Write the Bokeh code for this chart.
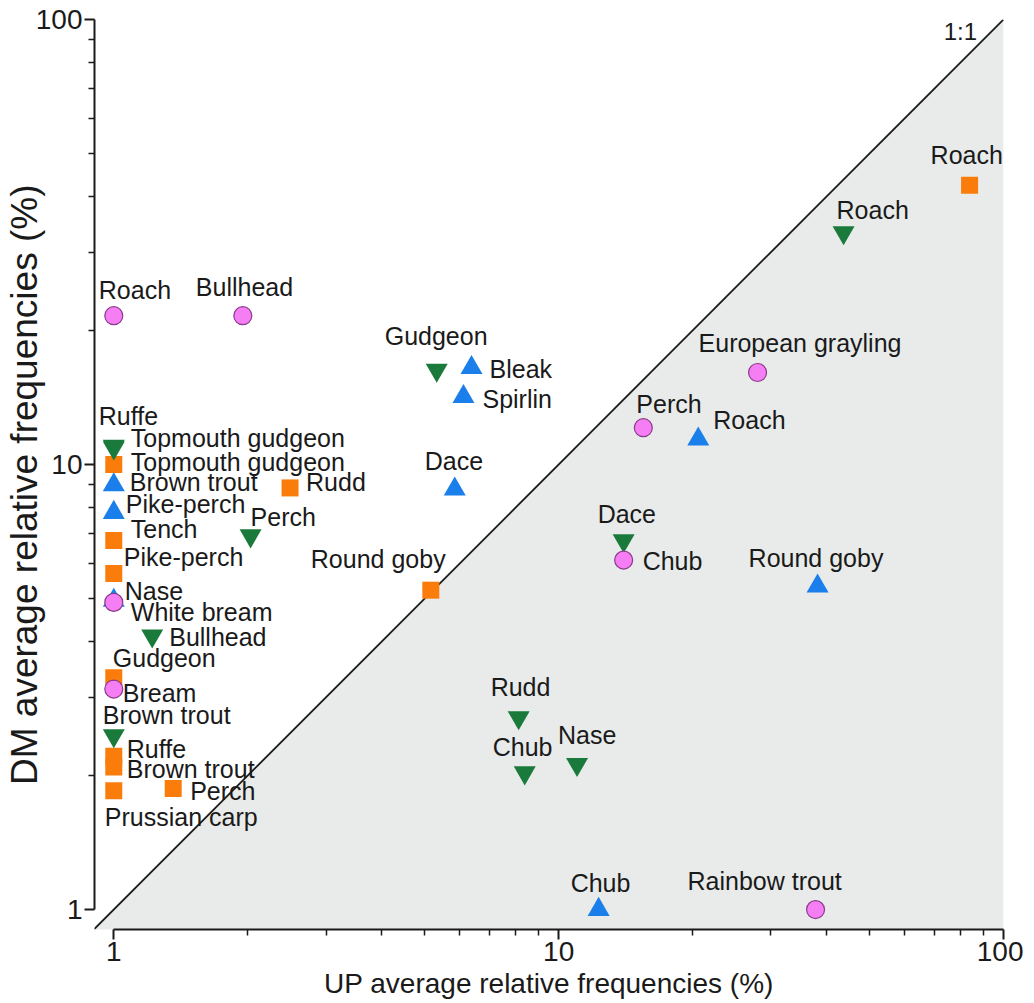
import math
from bokeh.plotting import figure
from bokeh.models import FixedTicker, Label, ColumnDataSource, BasicTickFormatter
from bokeh.core.properties import value
from bokeh.embed import file_html
from bokeh.resources import INLINE

# ---------------- data (UP vs DM average relative frequencies, %) ----------------
pink_names = ["Roach", "Bullhead", "European grayling", "Perch", "Chub", "Nase", "Bream", "Rainbow trout"]
pink_up = [1.0, 1.95, 28.0, 15.5, 14.0, 1.0, 1.0, 37.8]
pink_dm = [21.6, 21.6, 16.1, 12.1, 6.1, 4.9, 3.13, 1.0]

blue_names = ["Bleak", "Spirlin", "Roach", "Dace", "Brown trout", "Pike-perch", "White bream", "Round goby", "Chub"]
blue_up = [6.37, 6.11, 20.6, 5.84, 1.0, 1.0, 1.0, 38.2, 12.3]
blue_dm = [16.5, 14.2, 11.4, 8.8, 9.0, 7.8, 4.95, 5.33, 1.0]

green_names = ["Roach", "Gudgeon", "Ruffe", "Topmouth gudgeon", "Perch", "Dace", "Bullhead", "Brown trout", "Rudd", "Chub", "Nase"]
green_up = [43.7, 5.32, 1.0, 1.0, 2.03, 14.0, 1.22, 1.0, 8.13, 8.39, 11.0]
green_dm = [33.2, 16.3, 11.0, 10.9, 6.92, 6.75, 4.12, 2.46, 2.70, 2.03, 2.12]

orange_names = ["Roach", "Topmouth gudgeon", "Rudd", "Tench", "Pike-perch", "Round goby", "Gudgeon", "Ruffe", "Brown trout", "Perch", "Prussian carp"]
orange_up = [83.9, 1.0, 2.49, 1.0, 1.0, 5.16, 1.0, 1.0, 1.0, 1.36, 1.0]
orange_dm = [42.4, 10.0, 8.86, 6.75, 5.69, 5.22, 3.32, 2.21, 2.09, 1.87, 1.85]

major_ticks = [1, 10, 100]
minor_ticks = [2, 3, 4, 5, 6, 7, 8, 9, 20, 30, 40, 50, 60, 70, 80, 90]
one_to_one = [0.8, 100]

# ---------------- label placement (pixel offsets from marker) ----------------
pink_dx = [-15, -47, -59, -7, 19, 11, 9, -128]
pink_dy = [-26, -29, -29, -24, 1, -11, 4, -29]
blue_dx = [18, 19, 15, -30, 16, 12, 17, -69, -28]
blue_dy = [1, 2, -19, -28, -3, -9, 12, -28, -27]
green_dx = [-7, -52, -15, 17, 0, -26, 17, -11, -28, -32, -19]
green_dy = [-23, -34, -30, -10, -19, -26, 1, -21, -31, -26, -29]
orange_dx = [-39, 17, 16, 17, 10, -120, -1, 13, 13, 17, -9]
orange_dy = [-30, -3, -6, -11, -17, -31, -20, -7, 2, 2, 26]

FONT_NAME = "Liberation Sans"
FONT = value(FONT_NAME)
TXT = "#1a1a1a"

x_lo, x_hi = 0.905, 100
y_lo, y_hi = 0.902, 100

p = figure(x_axis_type="log", y_axis_type="log",
           x_range=(x_lo, x_hi), y_range=(y_lo, y_hi),
           frame_width=909, frame_height=910,
           min_border_left=93, min_border_right=20, min_border_top=19, min_border_bottom=60,
           output_backend="svg", toolbar_location=None,
           background_fill_color="white", border_fill_color="white",
           outline_line_color=None)
p.grid.visible = False

# shaded region below the 1:1 line
p.patch(x=[one_to_one[0], one_to_one[1], one_to_one[1]],
        y=[one_to_one[0], one_to_one[1], one_to_one[0]],
        fill_color="#E8EBEA", line_color=None)
p.line(one_to_one, one_to_one, line_color="#1a1a1a", line_width=1.8)

def series(names, xs, ys, dx, dy, marker, size, fill, line_color, line_width):
    src = ColumnDataSource(dict(x=xs, y=ys, name=names, dx=dx, dy=dy))
    p.scatter("x", "y", source=src, marker=marker, size=size, fill_color=fill,
              line_color=line_color, line_width=line_width)
    return src

srcs = []
srcs.append(series(orange_names, orange_up, orange_dm, orange_dx, orange_dy, "square", 17, "#FA7D0C", None, 0))
srcs.append(series(blue_names, blue_up, blue_dm, blue_dx, blue_dy, "triangle", 22, "#1A7FEA", None, 0))
srcs.append(series(green_names, green_up, green_dm, green_dx, green_dy, "inverted_triangle", 22, "#1A7A3B", None, 0))
srcs.append(series(pink_names, pink_up, pink_dm, pink_dx, pink_dy, "circle", 18, "#F67EF4", "#8A3B8A", 1.2))

for s in srcs:
    p.text("x", "y", text="name", source=s, x_offset="dx", y_offset="dy",
           text_align="left", text_baseline="middle", text_font=FONT,
           text_font_size="25px", text_color=TXT)

# axes
for ax in (p.xaxis[0], p.yaxis[0]):
    ax.ticker = FixedTicker(ticks=major_ticks, minor_ticks=minor_ticks)
    ax.formatter = BasicTickFormatter()
    ax.bounds = (1, 100)
    ax.axis_line_width = 2
    ax.axis_line_color = "#1a1a1a"
    ax.major_tick_line_color = "#1a1a1a"
    ax.minor_tick_line_color = "#1a1a1a"
    ax.major_tick_line_width = 2
    ax.minor_tick_line_width = 1.5
    ax.major_tick_out = 10
    ax.major_tick_in = 0
    ax.minor_tick_out = 6
    ax.minor_tick_in = 0
    ax.major_label_text_font = FONT_NAME
    ax.major_label_text_font_size = "28px"
    ax.major_label_text_color = TXT
    ax.major_label_standoff = 2
    ax.axis_label_text_font = FONT_NAME
    ax.axis_label_text_font_style = "normal"
    ax.axis_label_text_color = TXT

NBSP = "\u00a0"
p.yaxis.axis_label = "DM average relative frequencies (%)" + NBSP * 2
p.yaxis.axis_label_text_font_size = "37px"
p.yaxis.axis_label_standoff = -12
p.xaxis.axis_label = "UP average relative frequencies (%)"
p.xaxis.axis_label_text_font_size = "28px"
p.xaxis.axis_label_standoff = 4

p.add_layout(Label(x=80, y=94, text="1:1", text_align="center", text_baseline="middle",
                   text_font=FONT_NAME, text_font_size="24px", text_color=TXT))

open("out.html", "w").write(file_html(p, INLINE))
